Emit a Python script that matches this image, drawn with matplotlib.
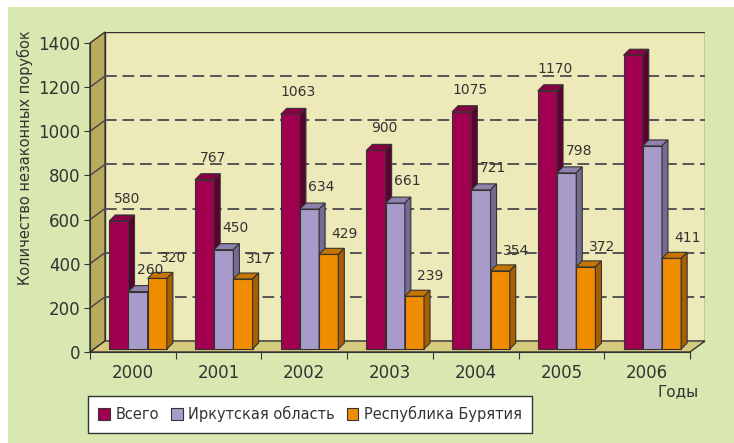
import matplotlib
matplotlib.use("Agg")
import matplotlib.pyplot as plt
from matplotlib.patches import Polygon, Rectangle

# data
years = ["2000", "2001", "2002", "2003", "2004", "2005", "2006"]
vsego = [580, 767, 1063, 900, 1075, 1170, 1331]
irkutsk = [260, 450, 634, 661, 721, 798, 920]
buryatia = [320, 317, 429, 239, 354, 372, 411]
labels_vsego = ["580", "767", "1063", "900", "1075", "1170", ""]
labels_irk = ["260", "450", "634", "661", "721", "798", ""]
labels_bur = ["320", "317", "429", "239", "354", "372", "411"]
series_names = ["Всего", "Иркутская область", "Республика Бурятия"]

# 3d look (in data units)
PX_X = 85.57          # px per category
PX_Y = 309 / 1400.0   # px per unit
DX = 15 / PX_X
DY = 11 / PX_Y
BDX = 6 / PX_X
BDY = 6 / PX_Y
Z0 = 3 / PX_Y
W = 0.224
START = 0.225
YMAX = 1400

TXT = "#333333"
colors = [("#a0004f", "#880045", "#5e0030"),
          ("#a99bc9", "#8e82ad", "#756a91"),
          ("#f08c00", "#c87400", "#a85f00")]

fig = plt.figure(figsize=(7.34, 4.43), dpi=100)
fig.patch.set_facecolor("white")
fig.patches.append(Rectangle((8 / 734, 0), 1, (443 - 7) / 443, transform=fig.transFigure,
                             facecolor="#d9e7b1", edgecolor="none", zorder=-10))

ax = fig.add_axes([90 / 734, (443 - 352) / 443, (705 - 90) / 734, (352 - 32) / 443])
ax.set_facecolor("none")
ax.set_xlim(0, len(years) + DX)
ax.set_ylim(0, YMAX + DY)
n = len(years)

# walls and floor
ax.add_patch(Rectangle((DX, DY), n, YMAX, facecolor="#ede9b9", edgecolor="#333333", lw=1.0, zorder=0))
ax.add_patch(Polygon([(0, 0), (0, YMAX), (DX, YMAX + DY), (DX, DY)], closed=True,
                     facecolor="#b8ab5e", edgecolor="#333333", lw=1.0, zorder=0.5, clip_on=False))
ax.add_patch(Polygon([(0, 0), (DX, DY), (n + DX, DY), (n, 0)], closed=True,
                     facecolor="#d6ca7c", edgecolor="#333333", lw=1.0, zorder=0.5, clip_on=False))

# gridlines
for v in range(200, YMAX, 200):
    ax.plot([0, DX], [v, v + DY], color="#444444", lw=1.0, zorder=1)
    ax.plot([DX, n + DX], [v + DY, v + DY], color="#555555", lw=1.4,
            dashes=(6, 3), zorder=1)

# bars
all_series = [vsego, irkutsk, buryatia]
all_labels = [labels_vsego, labels_irk, labels_bur]
offsets = [(8, 22), (12, 22), (16, 20)]
handles = []
for k, vals in enumerate(all_series):
    front, top, side = colors[k]
    xs = [i + START + k * W for i in range(n)]
    bars = ax.bar(xs, vals, width=W, bottom=Z0, align="edge", color=front,
                  edgecolor="#333333", lw=0.8, zorder=3 + k, label=series_names[k])
    handles.append(bars)
    for x, v in zip(xs, vals):
        t = v + Z0
        ax.add_patch(Polygon([(x, t), (x + BDX, t + BDY), (x + W + BDX, t + BDY), (x + W, t)],
                             closed=True, facecolor=top, edgecolor="#333333", lw=0.8, zorder=3 + k))
        ax.add_patch(Polygon([(x + W, Z0), (x + W + BDX, Z0 + BDY), (x + W + BDX, t + BDY), (x + W, t)],
                             closed=True, facecolor=side, edgecolor="#333333", lw=0.8, zorder=3 + k))
    for x, v, lab in zip(xs, vals, all_labels[k]):
        if lab:
            ox, oy = offsets[k]
            ax.annotate(lab, (x + W / 2, v + Z0), xytext=(ox * 0.72, oy * 0.72),
                        textcoords="offset points", ha="center", va="center",
                        fontsize=10, color=TXT, zorder=10)

# axes
for s in ["top", "right"]:
    ax.spines[s].set_visible(False)
ax.spines["left"].set_bounds(0, YMAX)
ax.spines["bottom"].set_bounds(0, n)
ax.spines["left"].set_color("#333333")
ax.spines["bottom"].set_color("#333333")
ax.spines["left"].set_zorder(2)
ax.set_yticks(range(0, YMAX + 1, 200))
ax.tick_params(axis="y", length=4, color="#333333", labelsize=12, labelcolor=TXT, pad=3)
ax.set_xticks(range(n + 1))
ax.set_xticklabels([])
ax.tick_params(axis="x", which="major", length=5, color="#333333")
ax.set_xticks([i + 0.5 for i in range(n)], minor=True)
ax.set_xticklabels(years, minor=True)
ax.tick_params(axis="x", which="minor", length=0, labelsize=12, labelcolor=TXT, pad=9)

fig.text(25 / 734, 1 - 158 / 443, "Количество незаконных порубок", rotation=90,
         ha="center", va="center", fontsize=10.5, color=TXT)
fig.text(678 / 734, 1 - 392 / 443, "Годы", ha="center", va="center", fontsize=11, color=TXT)

leg = fig.legend(handles=handles, loc="upper left", bbox_to_anchor=(88 / 734, 1 - 396 / 443),
                 ncol=3, fontsize=10.5, frameon=True, fancybox=False, framealpha=1,
                 edgecolor="#333333", facecolor="white", handlelength=0.8, handleheight=0.9,
                 handletextpad=0.4, columnspacing=0.8, borderaxespad=0, borderpad=0.7)
for t in leg.get_texts():
    t.set_color(TXT)
leg.get_frame().set_linewidth(1.0)

fig.savefig("out.png", dpi=100)
